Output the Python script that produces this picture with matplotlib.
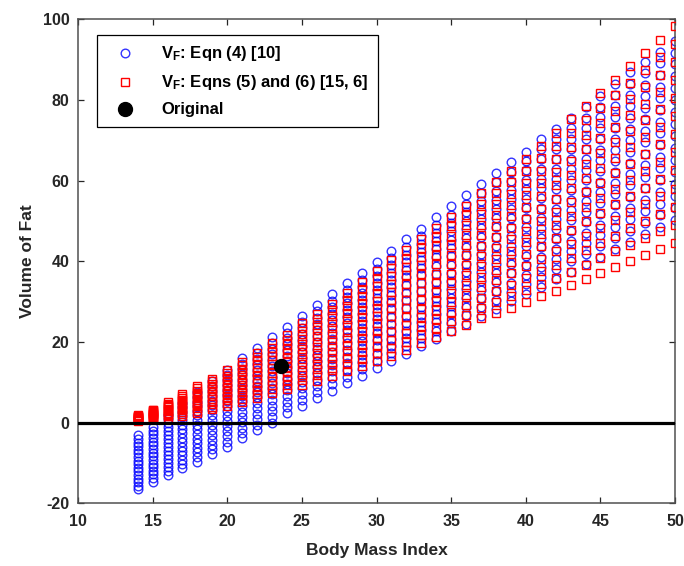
import numpy as np
import matplotlib
matplotlib.use('Agg')
import matplotlib.pyplot as plt

# fuentes tipo Arial en negrita, como en la figura original
plt.rcParams['font.family'] = ['Liberation Sans', 'DejaVu Sans']
plt.rcParams['font.weight'] = 'bold'
plt.rcParams['axes.unicode_minus'] = False
plt.rcParams['mathtext.fontset'] = 'custom'
plt.rcParams['mathtext.rm'] = 'Liberation Sans:bold'
plt.rcParams['mathtext.bf'] = 'Liberation Sans:bold'
plt.rcParams['mathtext.it'] = 'Liberation Sans:bold'

# ---------------------------------------------------------------------------
# datos: una columna de puntos por cada IMC entero
bmi = np.arange(14, 51)

# V_F, Eqn (4): valor mas bajo y mas alto de cada columna
blue_low = [-16.6, -14.7, -13.0, -11.4, -9.7, -7.9, -6.0, -3.9, -1.9, 0.0,
            2.3, 4.1, 6.0, 7.9, 9.7, 11.6, 13.4, 15.3, 17.1, 19.0,
            20.8, 22.7, 24.5, 26.4, 28.2, 30.1, 31.9, 33.7, 35.6, 37.4,
            39.3, 41.1, 43.0, 44.8, 46.7, 48.5, 50.3]
blue_high = [-3.2, -1.1, 1.8, 4.9, 7.5, 10.3, 13.1, 15.9, 18.6, 21.1,
             23.7, 26.4, 29.1, 31.8, 34.5, 37.1, 39.8, 42.6, 45.4, 48.1,
             51.0, 53.6, 56.4, 59.2, 61.8, 64.5, 67.2, 70.2, 72.9, 75.5,
             78.2, 81.0, 83.9, 86.8, 89.4, 92.0, 94.7]

# V_F, Eqns (5) y (6)
red_low = [0.5, 0.8, 1.2, 1.7, 2.4, 3.3, 4.2, 5.1, 6.1, 7.2,
           8.2, 9.3, 10.4, 11.6, 12.8, 14.0, 15.3, 16.6, 18.0, 19.6,
           21.2, 22.8, 24.3, 25.8, 27.1, 28.5, 29.9, 31.3, 32.6, 34.0,
           35.6, 37.2, 38.6, 40.1, 41.6, 43.1, 44.6]
red_high = [1.8, 3.2, 5.0, 7.0, 9.0, 10.9, 13.0, 15.0, 17.3, 19.6,
            21.7, 24.6, 27.0, 29.5, 32.1, 34.9, 37.6, 40.2, 42.7, 45.4,
            48.2, 51.0, 53.8, 56.8, 59.6, 62.4, 65.3, 68.6, 71.9, 75.2,
            78.5, 81.8, 85.0, 88.3, 91.6, 94.9, 98.3]

# puntos por columna (igualmente espaciados dentro de cada columna)
n_blue = 16
n_red = 13

original_bmi = [23.6]
original_vf = [14.1]

# ---------------------------------------------------------------------------
def columnas(lows, highs, n):
    xs, ys = [], []
    for b, lo, hi in zip(bmi, lows, highs):
        xs.append(np.full(n, b))
        ys.append(np.linspace(lo, hi, n))
    return np.concatenate(xs), np.concatenate(ys)


fig = plt.figure(figsize=(6.84, 5.66), dpi=100)
ax = fig.add_axes([0.114, 0.111, 0.873, 0.855])

xb, yb = columnas(blue_low, blue_high, n_blue)
xr, yr = columnas(red_low, red_high, n_red)

ax.plot(xb, yb, 'o', ls='none', mfc='none', mec='#0000ff', mew=1.0,
        ms=6.2, alpha=0.8, label=r'$\mathbf{V_F}$: Eqn (4) [10]', zorder=2)
ax.plot(xr, yr, 's', ls='none', mfc='none', mec='#ff0000', mew=1.0,
        ms=5.4, label=r'$\mathbf{V_F}$: Eqns (5) and (6) [15, 6]', zorder=3)
ax.axhline(0, color='k', lw=2.3, zorder=4)
ax.plot(original_bmi, original_vf, 'o', ls='none', color='k', ms=10,
        label='Original', zorder=5)

ax.set_xlim(10, 50)
ax.set_ylim(-20, 100)
ax.set_xticks(np.arange(10, 51, 5))
ax.set_yticks(np.arange(-20, 101, 20))

ax.tick_params(direction='in', top=True, right=True, length=4, width=0.9,
               labelsize=11.5, colors='#262626')
ax.tick_params(axis='x', pad=8)
ax.tick_params(axis='y', pad=6)
for s in ax.spines.values():
    s.set_color('#505050')
    s.set_linewidth(1.1)

ax.set_xlabel('Body Mass Index', fontsize=12.5, fontweight='bold',
              color='#262626', labelpad=10)
ax.set_ylabel('Volume of Fat', fontsize=12.5, fontweight='bold',
              color='#262626', labelpad=6)

leg = ax.legend(loc='upper left', bbox_to_anchor=(0.032, 0.967),
                borderaxespad=0, frameon=True, fancybox=False,
                edgecolor='k', framealpha=1, handletextpad=1.0,
                labelspacing=0.6, borderpad=0.55, handlelength=2.3,
                prop={'weight': 'bold', 'size': 12})
leg.get_frame().set_linewidth(0.9)

fig.savefig('out.png', dpi=100)
